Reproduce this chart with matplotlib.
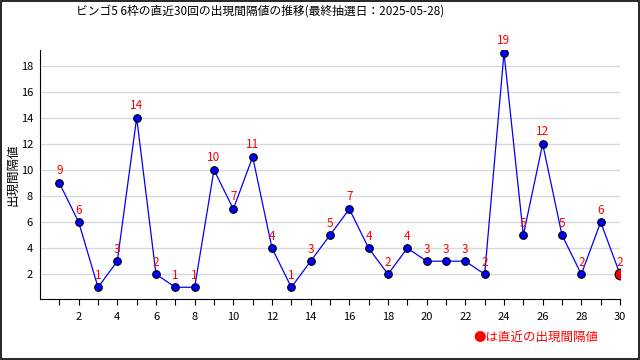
import numpy as np
import matplotlib
matplotlib.use("Agg")
import matplotlib.pyplot as plt

plt.rcParams['font.family'] = ['Noto Sans CJK JP', 'DejaVu Sans']

draws = list(range(1, 31))
gaps = [9, 6, 1, 3, 14, 2, 1, 1, 10, 7, 11, 4, 1, 3, 5, 7, 4, 2, 4, 3,
        3, 3, 2, 19, 5, 12, 5, 2, 6, 2]
title = "ビンゴ5 6枠の直近30回の出現間隔値の推移(最終抽選日：2025-05-28)"
ylabel = "出現間隔値"
note = "●は直近の出現間隔値"

fig = plt.figure(figsize=(6.4, 3.6), dpi=100)
fig.patches.append(plt.Rectangle((0.0008, 0.0014), 0.9976, 0.997, transform=fig.transFigure,
                                 fill=False, edgecolor='black', linewidth=1.2))
ax = fig.add_axes([40 / 640, 61 / 360, 580 / 640, 249 / 360])

ax.plot(draws, gaps, color='#0000ff', linewidth=0.9, zorder=2)
ax.scatter(draws[:-1], gaps[:-1], s=30, color='#0000ff', edgecolor='black',
           linewidth=0.8, zorder=3)
ax.scatter(draws[-1:], gaps[-1:], s=60, color='#ff0000', edgecolor='black',
           linewidth=0.8, zorder=4)
for x, y in zip(draws, gaps):
    ax.annotate(str(y), (x, y), xytext=(0, 4), textcoords='offset points',
                ha='center', va='bottom', color='#ff0000', fontsize=8.5)

ax.set_xlim(0, 30)
ax.set_ylim(0.1, 19.2)
ax.set_xticks(draws)
ax.set_xticklabels([str(d) if d % 2 == 0 else '' for d in draws])
ax.set_yticks(range(2, 19, 2))
ax.tick_params(axis='x', length=4, labelsize=8, pad=5)
ax.tick_params(axis='y', length=0, labelsize=8, pad=5)
ax.grid(axis='y', color='#d9d9d9', linewidth=1)
ax.set_axisbelow(True)
for s in ['top', 'right']:
    ax.spines[s].set_visible(False)
ax.set_ylabel(ylabel, fontsize=9)
ax.yaxis.set_label_coords(-0.036, 0.5)

fig.text(260 / 640, 0.968, title, ha='center', va='center', fontsize=8.5)
fig.text(0.935, 0.064, note, ha='right', va='center', fontsize=9, color='#ff0000')

fig.savefig('out.png', dpi=100)
